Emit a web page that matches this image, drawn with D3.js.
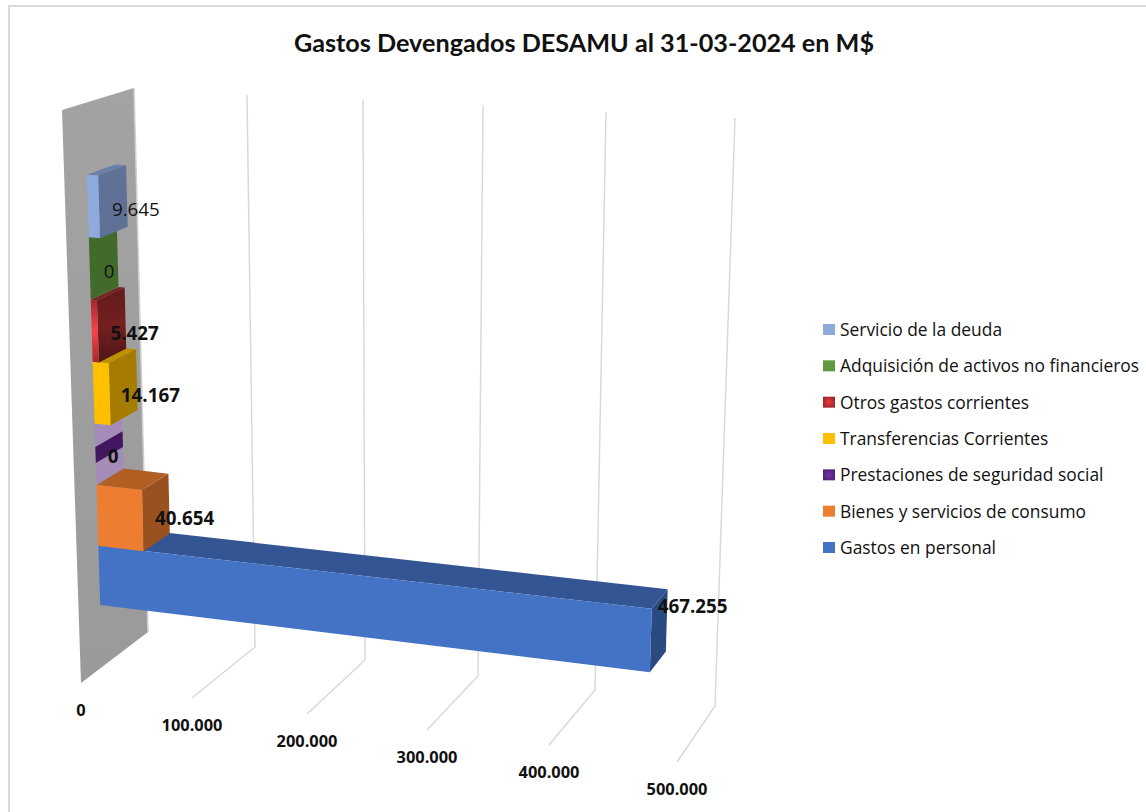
<!DOCTYPE html>
<html lang="es">
<head>
  <meta charset="UTF-8">
  <title>Gastos Devengados DESAMU</title>
  <script src="https://d3js.org/d3.v7.min.js"></script>
  <style>
    html, body { margin: 0; padding: 0; background: #fff; }
    svg { display: block; }
    text { font-family: "Open Sans", sans-serif; fill: #111; }
  </style>
</head>
<body>
  <svg width="1146" height="812"></svg>
  <script>
    const title = `Gastos Devengados DESAMU al 31-03-2024 en M$`;

    // bottom to top, the order the bars sit on the wall
    const categories = [
      `Gastos en personal`,
      `Bienes y servicios de consumo`,
      `Prestaciones de seguridad social`,
      `Transferencias Corrientes`,
      `Otros gastos corrientes`,
      `Adquisición de activos no financieros`,
      `Servicio de la deuda`,
    ];
    const values = [467255, 40654, 0, 14167, 5427, 0, 9645];
    const valueLabels = [`467.255`, `40.654`, `0`, `14.167`, `5.427`, `0`, `9.645`];
    const tickValues = [0, 100000, 200000, 300000, 400000, 500000];
    const tickLabels = [`0`, `100.000`, `200.000`, `300.000`, `400.000`, `500.000`];

    const colors = [
      {legend: `#4472c4`, front: `#4472c4`, top: `#335593`, side: `#2a4a82`},
      {legend: `#ed7d31`, front: `#ed7d31`, top: `#b25f24`, side: `#99511f`},
      {legend: `url(#purpleLegend)`, front: `#a58cb8`, top: `#a58cb8`, side: `#a58cb8`},
      {legend: `#ffc000`, front: `#ffc000`, top: `#bf9000`, side: `#a67c00`},
      {legend: `url(#redLegend)`, front: `url(#redFront)`, top: `#7a2023`, side: `url(#redSide)`},
      {legend: `#5f9a3f`, front: `#426b2b`, top: `#426b2b`, side: `#426b2b`},
      {legend: `#8faadc`, front: `#8faadc`, top: `#6b80a5`, side: `#5f7196`},
    ];

    const svg = d3.select(`svg`);

    // the plot box in perspective: four rails that run along the value axis
    const rail = (xs, ys) => ({
      x: d3.scaleLinear().domain(tickValues).range(xs),
      y: d3.scaleLinear().domain(tickValues).range(ys),
    });
    const frontBottom = rail([81, 192, 307, 427, 549, 677], [683, 698, 714, 730, 745, 762]);
    const backBottom = rail([148, 255, 365, 478, 595, 715], [632, 647, 660, 676, 690, 706]);
    const frontTop = rail([62, 181, 304, 432, 562, 698], [110, 117, 124, 129, 136, 143]);
    const backTop = rail([134, 247, 363, 483, 606, 735], [88, 95, 100, 105, 112, 118]);

    // v = value, h = height in the box, d = depth in the box
    const project = (v, h, d) => {
      const at = axis => {
        const bottom = frontBottom[axis](v) * (1 - d) + backBottom[axis](v) * d;
        const top = frontTop[axis](v) * (1 - d) + backTop[axis](v) * d;
        return bottom * (1 - h) + top * h;
      };
      return [at(`x`), at(`y`)];
    };

    // slots get a little taller going up, the camera is above the chart
    const heightScale = d3.scalePow().exponent(1.02).domain([0, categories.length]).range([0.11, 0.873]);
    const barFront = 0.315;
    const barBack = 0.71;

    const polygon = points => svg.append(`polygon`).attr(`points`, points.join(` `));

    // gradients for the red bar
    const defs = svg.append(`defs`);
    const gradient = (id, stops) => {
      const g = defs.append(`linearGradient`).attr(`id`, id)
        .attr(`x1`, 0).attr(`y1`, 0).attr(`x2`, 0).attr(`y2`, 1);
      stops.forEach(([offset, color]) => g.append(`stop`).attr(`offset`, offset).attr(`stop-color`, color));
    };
    const radial = (id, stops) => {
      const g = defs.append(`radialGradient`).attr(`id`, id);
      stops.forEach(([offset, color]) => g.append(`stop`).attr(`offset`, offset).attr(`stop-color`, color));
    };
    gradient(`redFront`, [[0, `#a5282c`], [0.5, `#f5444a`], [1, `#a5282c`]]);
    gradient(`redSide`, [[0, `#621a1d`], [0.5, `#74201f`], [1, `#4e1517`]]);
    gradient(`wallFill`, [[0, `#a3a3a3`], [1, `#9a9a9a`]]);
    radial(`redLegend`, [[0, `#f0383c`], [1, `#a32a2c`]]);
    radial(`purpleLegend`, [[0, `#7a2fb0`], [1, `#53257a`]]);

    // wall at value 0
    polygon([project(0, 1, 0), project(0, 1, 1), project(0, 0, 1), project(0, 0, 0)])
      .attr(`fill`, `url(#wallFill)`);
    svg.append(`path`)
      .attr(`d`, d3.line()([project(0, 1, 1), project(0, 0, 1)]))
      .attr(`stroke`, `#d0d0d0`).attr(`stroke-width`, 1.5).attr(`fill`, `none`);

    // gridlines: up the back, then along the floor
    svg.selectAll(`path.grid`)
      .data(tickValues.slice(1))
      .enter()
      .append(`path`)
      .attr(`class`, `grid`)
      .attr(`d`, v => d3.line()([project(v, 1, 1), project(v, 0, 1), project(v, 0, 0)]))
      .attr(`fill`, `none`)
      .attr(`stroke`, `#d9d9d9`)
      .attr(`stroke-width`, 1.5);

    // bars, lowest first so that each one rests on the one below
    categories.forEach((cat, i) => {
      const v = values[i];
      const h0 = heightScale(i);
      const h1 = heightScale(i + 1);
      const c = colors[i];
      polygon([project(0, h1, barFront), project(v, h1, barFront), project(v, h1, barBack), project(0, h1, barBack)])
        .attr(`fill`, c.top);
      polygon([project(v, h1, barFront), project(v, h0, barFront), project(v, h0, barBack), project(v, h1, barBack)])
        .attr(`fill`, c.side);
      polygon([project(0, h1, barFront), project(v, h1, barFront), project(v, h0, barFront), project(0, h0, barFront)])
        .attr(`fill`, c.front);
      // the empty purple bar shows as a dark stripe across its slab
      if (cat === `Prestaciones de seguridad social`) {
        const s0 = heightScale(i + 0.36);
        const s1 = heightScale(i + 0.62);
        polygon([project(0, s1, barFront), project(0, s1, barBack), project(0, s0, barBack), project(0, s0, barFront)])
          .attr(`fill`, `#43175f`);
      }
    });

    // value labels start from the end of each bar, nudged by hand like Excel's own placement
    const labelShift = [[-9, -8], [-14, 21], [-15, 24], [-16, 22], [-15, 22], [-14, 22], [-15, 20]];
    categories.forEach((cat, i) => {
      const [px, py] = project(values[i], heightScale(i + 0.5), barBack);
      svg.append(`text`)
        .attr(`x`, px + labelShift[i][0])
        .attr(`y`, py + labelShift[i][1])
        .attr(`font-size`, 18.8)
        .attr(`font-weight`, cat === `Servicio de la deuda` || cat === `Adquisición de activos no financieros` ? 400 : 700)
        .text(valueLabels[i]);
    });

    // value axis labels under the front of the floor
    svg.selectAll(`text.tick`)
      .data(tickValues)
      .enter()
      .append(`text`)
      .attr(`class`, `tick`)
      .attr(`x`, v => frontBottom.x(v))
      .attr(`y`, v => frontBottom.y(v) + 33)
      .attr(`text-anchor`, `middle`)
      .attr(`font-size`, 16.4)
      .attr(`font-weight`, 700)
      .text((v, i) => tickLabels[i]);

    // legend, same order as the stack read from the top
    const legendY = d3.scalePoint().domain(categories).range([547, 329]);
    const legend = svg.selectAll(`g.legend`)
      .data(categories)
      .enter()
      .append(`g`)
      .attr(`class`, `legend`)
      .attr(`transform`, d => `translate(823, ${legendY(d)})`);
    legend.append(`rect`)
      .attr(`y`, -5)
      .attr(`width`, 12)
      .attr(`height`, 11)
      .attr(`fill`, (d, i) => colors[i].legend);
    legend.append(`text`)
      .attr(`x`, 17)
      .attr(`y`, 7)
      .attr(`font-size`, 17.4)
      .attr(`fill`, `#333`)
      .text(d => d);

    svg.append(`text`)
      .attr(`x`, 584)
      .attr(`y`, 52)
      .attr(`text-anchor`, `middle`)
      .style(`font-family`, `Lato, sans-serif`)
      .attr(`font-size`, 25.2)
      .attr(`font-weight`, 700)
      .text(title);

    // chart frame
    svg.append(`path`)
      .attr(`d`, d3.line()([[9, 812], [9, 6], [1146, 6]]))
      .attr(`fill`, `none`)
      .attr(`stroke`, `#d9d9d9`)
      .attr(`stroke-width`, 2);
  </script>
</body>
</html>
